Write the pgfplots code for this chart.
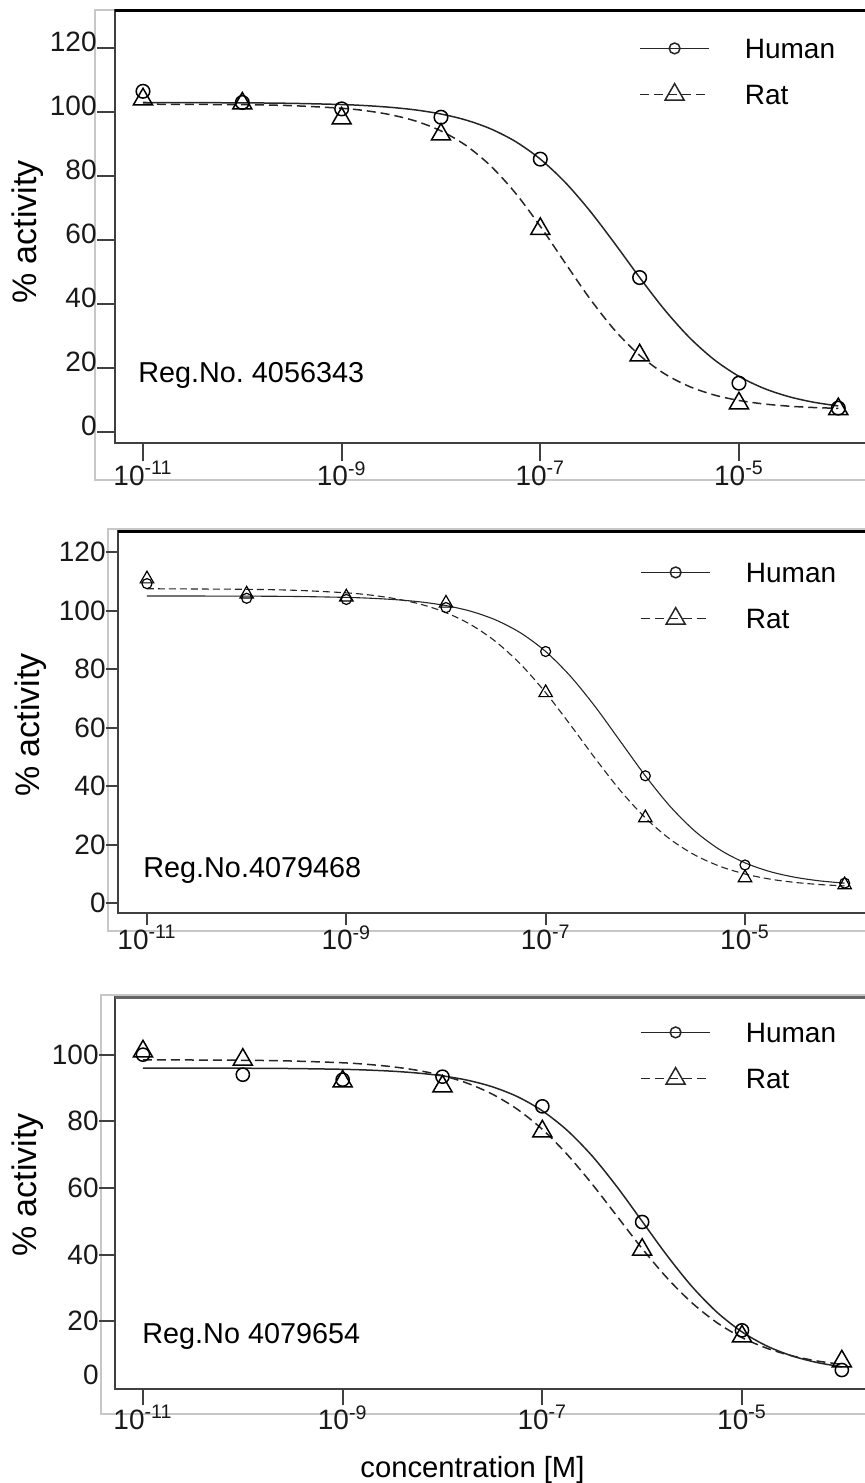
\documentclass[border=0pt]{standalone}
\usepackage{fontspec}
\setmainfont{Liberation Sans}
\usepackage{pgfplots}
\usepackage{pgfplotstable}
\pgfplotsset{compat=1.18}
\frenchspacing

% fitted curves: concentration, Human/Rat for three compounds
\pgfplotstableread{
conc      hA     rA     hB     rB     hC    rC
1e-11     103.0  102.47 104.99 107.46 95.99 98.47
1e-10     102.89 102.31 104.93 107.26 95.94 98.32
3.162e-10 102.73 102.0  104.81 106.91 95.84 98.09
1e-9      102.36 101.19 104.50 106.06 95.61 97.57
1.778e-9  102.01 100.40 104.20 105.26 95.39 97.09
3.162e-9  101.47 99.13  103.71 104.01 95.04 96.37
5.623e-9  100.65 97.15  102.93 102.12 94.49 95.30
1e-8      99.40  94.12  101.69 99.29  93.64 93.72
1.778e-8  97.53  89.61  99.75  95.16  92.34 91.43
3.162e-8  94.77  83.20  96.77  89.36  90.36 88.15
5.623e-8  90.81  74.69  92.33  81.60  87.42 83.62
1e-7      85.31  64.30  86.00  71.92  83.16 77.61
1.778e-7  78.07  52.88  77.50  60.83  77.27 70.04
3.162e-7  69.11  41.67  67.00  49.30  69.59 61.14
5.623e-7  58.92  31.82  55.25  38.43  60.28 51.48
1e-6      48.32  24.0   43.51  29.12  50.0  41.83
1.778e-6  38.28  18.25  33.00  21.78  39.72 33.00
3.162e-6  29.60  14.26  24.50  16.35  30.41 25.52
5.623e-6  22.65  11.61  18.17  12.53  22.73 19.59
1e-5      17.43  9.89   13.73  9.92   16.84 15.13
1.778e-5  13.69  8.81   10.75  8.18   12.59 11.92
3.162e-5  11.10  8.12   8.81   7.05   9.64  9.67
5.623e-5  9.35   7.69   7.57   6.31   7.66  8.12
1e-4      8.18   7.43   6.79   5.84   6.36  7.08
}\curves

% measured points
\pgfplotstableread{
conc   hA    rA    hB    rB    hC    rC
1e-11  106.5 104   109.2 110.8 100   101
1e-10  103   102.7 104.2 105.6 94    98.5
1e-9   101   98    103.8 104.6 92.5  92
1e-8   98.4  93    101   102.5 93.4  90.5
1e-7   85.3  63.5  86    71.9  84.5  77
1e-6   48.3  24    43.5  29.1  49.8  41.5
1e-5   15.3  9     13    8.6   17.3  15.5
1e-4   7.5   7.2   6.8   6.2   5.4   8
}\points

\newcommand{\fs}[1]{\fontsize{#1}{#1}\selectfont}

\pgfplotsset{
  every axis/.append style={
    scale only axis,
    clip=false,
    axis line style={draw=black!75, line width=1pt},
    tick align=outside,
    tick pos=left,
    tick style={draw=black!75, line width=1pt},
    xminorticks=false, yminorticks=false,
    ticklabel style={font=\fs{14}, inner sep=0pt, text=black!90},
    legend cell align=left,
  },
  every axis y label/.style={at={(rel axis cs:0,0.5)}, xshift=-43.5pt, rotate=90, anchor=center, font=\fs{17}},
  legend image code/.code={\draw[mark repeat=2,mark phase=2,#1] plot coordinates {(0pt,0pt) (17.25pt,0pt) (34.5pt,0pt)};},
  every axis legend/.style={draw=none, fill=none, inner sep=0pt, anchor=north west,
      row sep=12.75pt, column sep=17.5pt,
      nodes={inner sep=0pt, text height=9.7pt, text depth=0pt, font=\fs{14}}},
}
\pgfplotsset{
  hum/.style={black!85, line width=0.75pt, solid},
  rat/.style={black!85, line width=0.75pt, dash pattern=on 4.5pt off 2.5pt},
}

\begin{document}
\begin{tikzpicture}
% light grey outer frames
\draw[black!22, line width=0.6pt] (440pt,-5pt) -- (47.5pt,-5pt) -- (47.5pt,-240pt) -- (440pt,-240pt);
\draw[black!22, line width=0.6pt] (440pt,-264.5pt) -- (54pt,-264.5pt) -- (54pt,-465.5pt) -- (440pt,-465.5pt);
\draw[black!22, line width=0.6pt] (440pt,-497.5pt) -- (50.5pt,-497.5pt) -- (50.5pt,-707pt) -- (440pt,-707pt);

% ---------------- panel 1
\begin{axis}[
  xmode=log,
  at={(57.5pt,-221.5pt)}, anchor=south west,
  width=375.5pt, height=216.5pt,
  xmin=5.224e-12, xmax=1.901e-4, ymin=-3.4, ymax=131.9,
  xtick={1e-11,1e-9,1e-7,1e-5},
  xticklabels={10\textsuperscript{-11},10\textsuperscript{-9},10\textsuperscript{-7},10\textsuperscript{-5}},
  ytick={0,20,40,60,80,100,120}, yticklabels={0,20,40,60,80,100,120},
  major tick length=9pt,
  yticklabel style={yshift=3pt},
  ylabel={\% activity},
  every axis y label/.append style={at={(rel axis cs:0,0.487)}},
  legend style={at={(0.6977,0.9346)}},
]
\addlegendimage{hum, mark=o, mark size=2.7pt, mark options={solid}}
\addlegendentry{Human}
\addlegendimage{rat, mark=triangle, mark size=5.5pt, mark options={solid}}
\addlegendentry{Rat}
\addplot[hum, smooth, forget plot] table[x=conc, y=hA] {\curves};
\addplot[rat, smooth, forget plot] table[x=conc, y=rA] {\curves};
\addplot[only marks, mark=o, mark size=3.4pt, line width=0.75pt, black, forget plot] table[x=conc, y=hA] {\points};
\addplot[only marks, mark=triangle, mark size=5.5pt, line width=0.75pt, black, forget plot] table[x=conc, y=rA] {\points};
\draw[black, line width=1.5pt] (rel axis cs:0,1) -- (rel axis cs:1.01,1);
\node[anchor=base west, inner sep=0pt, font=\fs{14.4}] at (rel axis cs:0.0306,0.1386) {Reg.No. 4056343};
\end{axis}

% ---------------- panel 2
\begin{axis}[
  xmode=log,
  at={(59pt,-456.5pt)}, anchor=south west,
  width=374pt, height=191pt,
  xmin=5.117e-12, xmax=1.637e-4, ymin=-3.42, ymax=127.2,
  xtick={1e-11,1e-9,1e-7,1e-5},
  xticklabels={10\textsuperscript{-11},10\textsuperscript{-9},10\textsuperscript{-7},10\textsuperscript{-5}},
  ytick={0,20,40,60,80,100,120}, yticklabels={0,20,40,60,80,100,120},
  major tick length=6pt,
  ylabel={\% activity},
  every axis y label/.append style={at={(rel axis cs:0,0.5)}, xshift=-1.5pt},
  legend style={at={(0.6979,0.918)}},
]
\addlegendimage{hum, mark=o, mark size=2.7pt, mark options={solid}}
\addlegendentry{Human}
\addlegendimage{rat, mark=triangle, mark size=5.5pt, mark options={solid}}
\addlegendentry{Rat}
\addplot[hum, line width=0.55pt, smooth, forget plot] table[x=conc, y=hB] {\curves};
\addplot[rat, line width=0.55pt, dash pattern=on 3.5pt off 2pt, smooth, forget plot] table[x=conc, y=rB] {\curves};
\addplot[only marks, mark=o, mark size=2.5pt, line width=0.6pt, black, forget plot] table[x=conc, y=hB] {\points};
\addplot[only marks, mark=triangle, mark size=3.9pt, line width=0.6pt, black, forget plot] table[x=conc, y=rB] {\points};
\draw[black, line width=1.5pt] (rel axis cs:0,1) -- (rel axis cs:1.01,1);
\node[anchor=base west, inner sep=0pt, font=\fs{14.4}] at (rel axis cs:0.0334,0.0942) {Reg.No.4079468};
\end{axis}

% ---------------- panel 3
\begin{axis}[
  xmode=log,
  at={(57.5pt,-694.5pt)}, anchor=south west,
  width=375.5pt, height=196pt,
  xmin=5.242e-12, xmax=1.746e-4, ymin=-0.3, ymax=117.3,
  xtick={1e-11,1e-9,1e-7,1e-5},
  xticklabels={10\textsuperscript{-11},10\textsuperscript{-9},10\textsuperscript{-7},10\textsuperscript{-5}},
  ytick={20,40,60,80,100}, yticklabels={20,40,60,80,100},
  extra y ticks={3.9}, extra y tick labels={0},
  extra y tick style={major tick style={draw=none}},
  major tick length=8pt,
  ylabel={\% activity},
  every axis y label/.append style={at={(rel axis cs:0,0.52)}},
  legend style={at={(0.699,0.9355)}},
  xlabel={concentration [M]},
  every axis x label/.style={at={(rel axis cs:0.476,0)}, anchor=base, yshift=-44pt, font=\fs{14.6}},
]
\addlegendimage{hum, mark=o, mark size=2.7pt, mark options={solid}}
\addlegendentry{Human}
\addlegendimage{rat, mark=triangle, mark size=5.5pt, mark options={solid}}
\addlegendentry{Rat}
\addplot[hum, smooth, forget plot] table[x=conc, y=hC] {\curves};
\addplot[rat, smooth, forget plot] table[x=conc, y=rC] {\curves};
\addplot[only marks, mark=o, mark size=3.3pt, line width=0.75pt, black, forget plot] table[x=conc, y=hC] {\points};
\addplot[only marks, mark=triangle, mark size=5.5pt, line width=0.75pt, black, forget plot] table[x=conc, y=rC] {\points};
\draw[black!60, line width=1.5pt] (rel axis cs:0,1) -- (rel axis cs:1.01,1);
\node[anchor=base west, inner sep=0pt, font=\fs{14.4}] at (rel axis cs:0.036,0.1173) {Reg.No 4079654};
\end{axis}

\pgfresetboundingbox
\path[use as bounding box] (0pt,0pt) rectangle (432pt,-741.5pt);
\end{tikzpicture}
\end{document}
